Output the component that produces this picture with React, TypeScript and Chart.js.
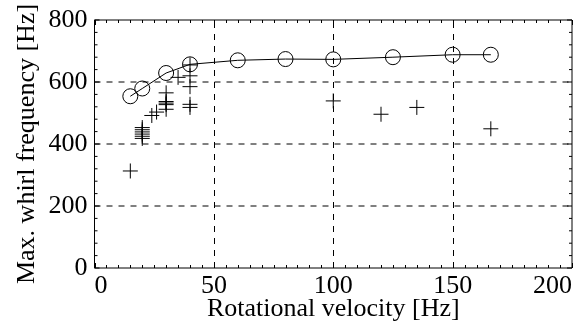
import React, { useEffect, useRef } from "react";
import { Chart, registerables } from "chart.js";

Chart.register(...registerables);

const circleX = [15, 20, 30, 40, 60, 80, 100, 125, 150, 166];
const circleY = [554, 579, 629, 657, 670, 674, 673, 680, 688, 688];

const plusX = [15, 20, 20, 20, 20, 20, 20, 24, 26, 30, 30, 30, 30, 30, 35, 40, 40, 40, 40, 40, 100, 120, 135, 166];
const plusY = [313, 418, 425, 432, 439, 446, 453, 492, 503, 565, 537, 532, 527, 512, 615, 655, 620, 585, 528, 518, 539, 496, 518, 449];

const xTicks = [0, 50, 100, 150, 200];
const yTicks = [0, 200, 400, 600, 800];
const xTitle = "Rotational velocity [Hz]";
const yTitle = "Max. whirl frequency [Hz]";

const FONT = "'Liberation Serif', 'Times New Roman', serif";
const FS = 26;

const boxPlugin = {
  id: "matlabBox",
  beforeDatasetsDraw(chart: any) {
    const { ctx, chartArea } = chart;
    const { left, right, top, bottom } = chartArea;
    const xs = chart.scales.x;
    const ys = chart.scales.y;
    ctx.save();
    ctx.strokeStyle = "#000";
    ctx.lineWidth = 1;
    ctx.setLineDash([6, 6]);
    ctx.beginPath();
    for (const v of xTicks) {
      if (v === xs.min || v === xs.max) continue;
      const px = Math.round(xs.getPixelForValue(v)) + 0.5;
      ctx.moveTo(px, bottom);
      ctx.lineTo(px, top);
    }
    for (const v of yTicks) {
      if (v === ys.min || v === ys.max) continue;
      const py = ys.getPixelForValue(v);
      ctx.moveTo(left, py);
      ctx.lineTo(right, py);
    }
    ctx.stroke();
    ctx.restore();
  },
  afterDraw(chart: any) {
    const { ctx, chartArea } = chart;
    const { left, right, top, bottom } = chartArea;
    const xs = chart.scales.x;
    const ys = chart.scales.y;
    ctx.save();
    ctx.strokeStyle = "#000";
    ctx.lineWidth = 1;
    ctx.setLineDash([]);
    ctx.beginPath();
    ctx.rect(left, top, right - left, bottom - top);
    ctx.stroke();
    ctx.beginPath();
    for (let v = 0; v <= 200; v += 5) {
      const px = Math.round(xs.getPixelForValue(v)) + 0.5;
      const len = v % 50 === 0 ? 5 : 3;
      ctx.moveTo(px, bottom);
      ctx.lineTo(px, bottom - len);
      ctx.moveTo(px, top);
      ctx.lineTo(px, top + len);
    }
    for (let v = 0; v <= 800; v += 40) {
      const py = ys.getPixelForValue(v);
      const len = v % 200 === 0 ? 5 : 3;
      ctx.moveTo(left, py);
      ctx.lineTo(left + len, py);
      ctx.moveTo(right, py);
      ctx.lineTo(right - len, py);
    }
    ctx.stroke();
    ctx.restore();
  },
};

export default function App() {
  const ref = useRef<HTMLCanvasElement>(null);
  useEffect(() => {
    document.body.style.margin = "0";
    const canvas = ref.current!;
    const chart = new Chart(canvas, {
      type: "scatter",
      data: {
        datasets: [
          {
            type: "line",
            data: circleX.map((x, i) => ({ x, y: circleY[i] })),
            borderColor: "#000",
            borderWidth: 1,
            pointStyle: "circle",
            pointRadius: 7.5,
            pointBorderColor: "#000",
            pointBackgroundColor: "rgba(0,0,0,0)",
            pointBorderWidth: 1,
            fill: false,
            tension: 0,
          } as any,
          {
            data: plusX.map((x, i) => ({ x, y: plusY[i] })),
            pointStyle: "cross",
            pointRadius: 7.5,
            pointBorderColor: "#000",
            pointBorderWidth: 1,
            showLine: false,
          },
        ],
      },
      options: {
        animation: false,
        responsive: false,
        devicePixelRatio: 1,
        layout: { padding: { left: 0, right: 9, top: 20, bottom: 0 } },
        plugins: { legend: { display: false }, tooltip: { enabled: false } },
        scales: {
          x: {
            type: "linear",
            min: 0,
            max: 200,
            afterBuildTicks: (s: any) => {
              s.ticks = xTicks.map((v) => ({ value: v }));
            },
            afterFit: (s: any) => {
              s.height = 61;
              s.paddingLeft = 0;
              s.paddingRight = 0;
            },
            ticks: {
              align: "inner",
              color: "#000",
              padding: 3,
              font: { family: FONT, size: FS },
              maxRotation: 0,
            },
            grid: { display: false, drawTicks: false },
            border: { display: false },
            title: {
              display: true,
              text: xTitle,
              color: "#000",
              font: { family: FONT, size: FS },
              padding: { top: 0, bottom: 4 },
            },
          },
          y: {
            type: "linear",
            min: 0,
            max: 800,
            afterBuildTicks: (s: any) => {
              s.ticks = yTicks.map((v) => ({ value: v }));
            },
            afterFit: (s: any) => {
              s.width = 94.5;
              s.paddingTop = 0;
              s.paddingBottom = 0;
            },
            ticks: {
              color: "#000",
              padding: 7,
              font: { family: FONT, size: FS },
            },
            grid: { display: false, drawTicks: false },
            border: { display: false },
            title: {
              display: true,
              text: yTitle,
              color: "#000",
              font: { family: FONT, size: FS },
              padding: { top: 12, bottom: 0 },
            },
          },
        },
      } as any,
      plugins: [boxPlugin],
    });
    return () => chart.destroy();
  }, []);
  return <canvas ref={ref} width={581} height={329} style={{ display: "block" }} />;
}
